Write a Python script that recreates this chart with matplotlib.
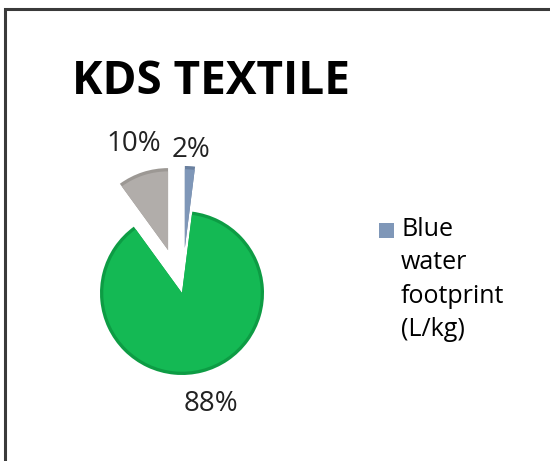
import matplotlib

matplotlib.use("Agg")
import matplotlib.pyplot as plt
import numpy as np
from matplotlib.legend_handler import HandlerPatch
from matplotlib.patches import Rectangle

# slice order follows the source sheet: first slice starts at 12 o'clock, clockwise
labels = ["Blue water footprint (L/kg)", "Green water footprint (L/kg)", "Grey water footprint (L/kg)"]
shares = [2, 88, 10]
colors = ["#7f97b8", "#14b954", "#b1adaa"]
rim_colors = ["#6a809f", "#0d9c44", "#9c9894"]
explode = [0.55, 0.0, 0.55]
label_dist = [1.2, 1.4, 1.36]
title = "KDS TEXTILE"
legend_text = "Blue\nwater\nfootprint\n(L/kg)"

plt.rcParams["font.family"] = ["Open Sans", "DejaVu Sans"]

W, H = 550, 461
fig = plt.figure(figsize=(W / 100, H / 100), dpi=100)

# frame: left and top edges only are visible in the crop
fig.patches.append(Rectangle((5 / W, -0.1), 1.2, 1.1 - 9 / H, transform=fig.transFigure,
                             fill=False, edgecolor="#3a3a3a", linewidth=2.2))

fig.text(72 / W, 1 - 81 / H, title, fontsize=33, fontweight="bold", va="center", ha="left")

# pie axes: centre at (182, 293) px, radius 82 px
r_px = 82
cx, cy = 182, H - 293
side = 3 * r_px
ax = fig.add_axes([(cx - side / 2) / W, (cy - side / 2) / H, side / W, side / H])

# darker base gives the bevelled rim, the main face sits on top
base, _ = ax.pie(shares, colors=rim_colors, explode=explode, startangle=90,
                 counterclock=False, radius=1.0, wedgeprops=dict(linewidth=0))
wedges, _ = ax.pie(shares, colors=colors, explode=explode, startangle=90,
                   counterclock=False, radius=0.96, wedgeprops=dict(linewidth=0))
ax.set_xlim(-1.5, 1.5)
ax.set_ylim(-1.5, 1.5)
ax.set_aspect("equal")
ax.axis("off")

for w, s, d, e in zip(base, shares, label_dist, explode):
    mid = np.deg2rad((w.theta1 + w.theta2) / 2)
    ox, oy = e * np.cos(mid), e * np.sin(mid)
    ax.text(ox + d * np.cos(mid), oy + d * np.sin(mid), f"{s}%",
            fontsize=20, ha="center", va="center", color="#222222")


def square_at_bottom(legend, orig_handle, xdescent, ydescent, width, height, fontsize):
    # square marker sitting at the bottom of a taller handle box, so it lines up with line one
    return Rectangle((-xdescent, -ydescent), width, width)


leg = fig.legend([wedges[0]], [legend_text], loc="upper left",
                 bbox_to_anchor=(361 / W, 1 - 199 / H), frameon=False,
                 fontsize=18, handlelength=0.6, handleheight=0.92,
                 handletextpad=0.3, labelspacing=0, borderpad=0.2,
                 handler_map={wedges[0]: HandlerPatch(patch_func=square_at_bottom)})
for t in leg.get_texts():
    t.set_linespacing(1.45)
for row in leg._legend_handle_box.get_children():
    for item in row.get_children():
        item.align = "top"

fig.savefig("out.png", dpi=100)
